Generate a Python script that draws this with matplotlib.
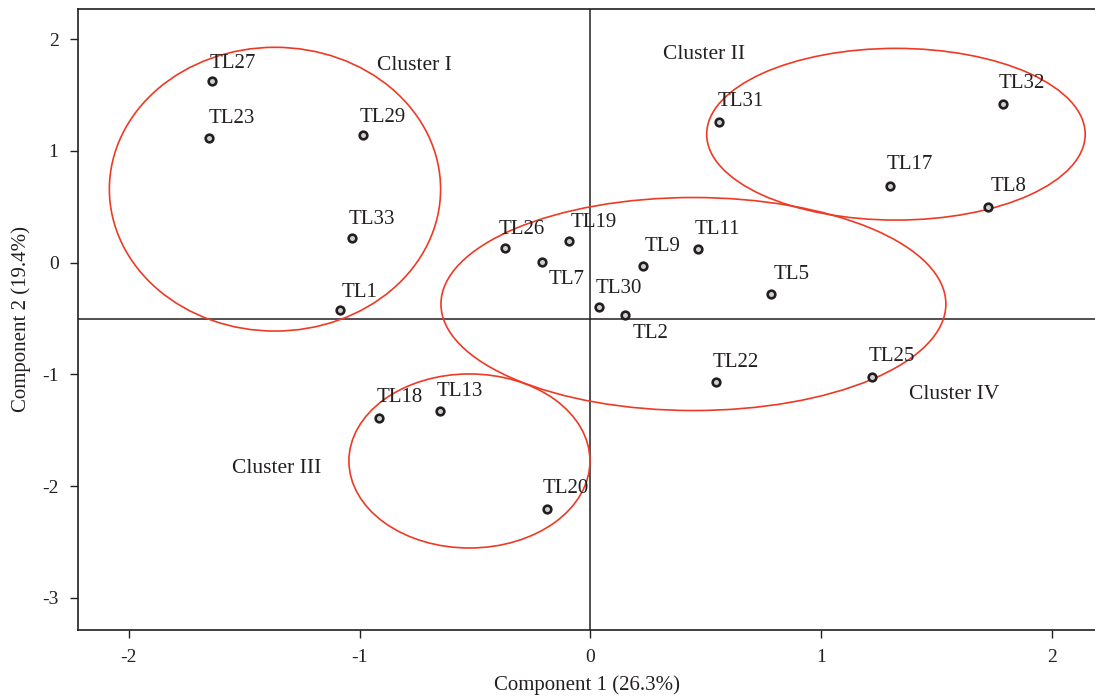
import matplotlib
matplotlib.use("Agg")
import matplotlib.pyplot as plt
from matplotlib.patches import Ellipse

plt.rcParams['font.family'] = ['Liberation Serif', 'DejaVu Serif']

# ---- data ----
labels = ["TL27", "TL23", "TL29", "TL33", "TL1", "TL26", "TL19", "TL7", "TL9", "TL11",
          "TL5", "TL30", "TL2", "TL22", "TL32", "TL17", "TL8", "TL31", "TL25",
          "TL18", "TL13", "TL20"]
comp1 = [-1.641, -1.653, -0.987, -1.033, -1.085, -0.371, -0.094, -0.208, 0.228, 0.466,
         0.782, 0.038, 0.152, 0.546, 1.788, 1.300, 1.724, 0.559, 1.221,
         -0.915, -0.651, -0.189]
comp2 = [1.627, 1.116, 1.143, 0.224, -0.423, 0.134, 0.197, 0.004, -0.027, 0.123,
         -0.278, -0.399, -0.468, -1.065, 1.418, 0.687, 0.501, 1.257, -1.021,
         -1.388, -1.328, -2.208]

cluster_names = ["Cluster I", "Cluster II", "Cluster III", "Cluster IV"]
cluster_cx = [-1.367, 1.325, -0.524, 0.447]
cluster_cy = [0.658, 1.150, -1.775, -0.370]
cluster_w = [1.436, 1.641, 1.045, 2.189]
cluster_h = [2.540, 1.537, 1.558, 1.907]
cluster_text_x = [-0.923, 0.316, -1.554, 1.380]
cluster_text_y = [1.725, 1.824, -1.885, -1.223]

x_ticks = [-2, -1, 0, 1, 2]
y_ticks = [2, 1, 0, -1, -2, -3]
x_label = "Component 1 (26.3%)"
y_label = "Component 2 (19.4%)"

# label offsets in pixels (dx, dy) relative to marker; dy>0 above
offsets = {
    "TL27": (-2, 8), "TL23": (0, 10), "TL29": (-3, 8), "TL33": (-3, 9), "TL1": (2, 8),
    "TL26": (-6, 9), "TL19": (2, 9), "TL7": (6, -8), "TL9": (2, 10), "TL11": (-3, 10),
    "TL5": (3, 10), "TL30": (-3, 9), "TL2": (7, -9), "TL22": (-4, 10), "TL32": (-4, 11),
    "TL17": (-4, 12), "TL8": (3, 11), "TL31": (-2, 11), "TL25": (-3, 11),
    "TL18": (-3, 11), "TL13": (-4, 10), "TL20": (-4, 11),
}

ink = '#231f20'
red = '#ee3a24'

fig = plt.figure(figsize=(10.95, 6.97), dpi=100)
ax = fig.add_axes([78/1095, 67/697, 1 - 78/1095, (630-9)/697])

ax.set_xlim(-2.221, 2.188)
ax.set_ylim(-3.288, 2.271)

ax.axvline(0, color=ink, lw=1.1, zorder=1)
ax.axhline(-0.507, color=ink, lw=1.1, zorder=1)

for cx, cy, w, h in zip(cluster_cx, cluster_cy, cluster_w, cluster_h):
    ax.add_patch(Ellipse((cx, cy), w, h, fill=False, edgecolor=red, lw=1.2, zorder=2))

ax.plot(comp1, comp2, linestyle='none', marker='o', markersize=5.5,
        markerfacecolor='#d0d0d0', markeredgecolor=ink, markeredgewidth=1.9, zorder=3)

px2pt = 72 / 100
for lab, x, y in zip(labels, comp1, comp2):
    dx, dy = offsets[lab]
    va = 'bottom' if dy > 0 else 'top'
    ax.annotate(lab, (x, y), xytext=(dx * px2pt, dy * px2pt), textcoords='offset points',
                ha='left', va=va, fontsize=15, color=ink, zorder=4)

for name, tx, ty in zip(cluster_names, cluster_text_x, cluster_text_y):
    ax.text(tx, ty, name, ha='left', va='baseline', fontsize=15.5, color=ink)

ax.set_xticks(x_ticks)
ax.set_yticks(y_ticks)
ax.set_xticklabels([str(t) for t in x_ticks])
ax.set_yticklabels([str(t) for t in y_ticks])
ax.tick_params(direction='out', length=6, width=1.0, color=ink, labelcolor=ink,
               labelsize=14, pad=8)
for s in ['left', 'bottom', 'top']:
    ax.spines[s].set_color(ink)
    ax.spines[s].set_linewidth(1.2)
ax.spines['right'].set_visible(False)

ax.set_xlabel(x_label, fontsize=15, color=ink, labelpad=6)
ax.set_ylabel(y_label, fontsize=15, color=ink, labelpad=8)

fig.savefig("out.png", dpi=100)
